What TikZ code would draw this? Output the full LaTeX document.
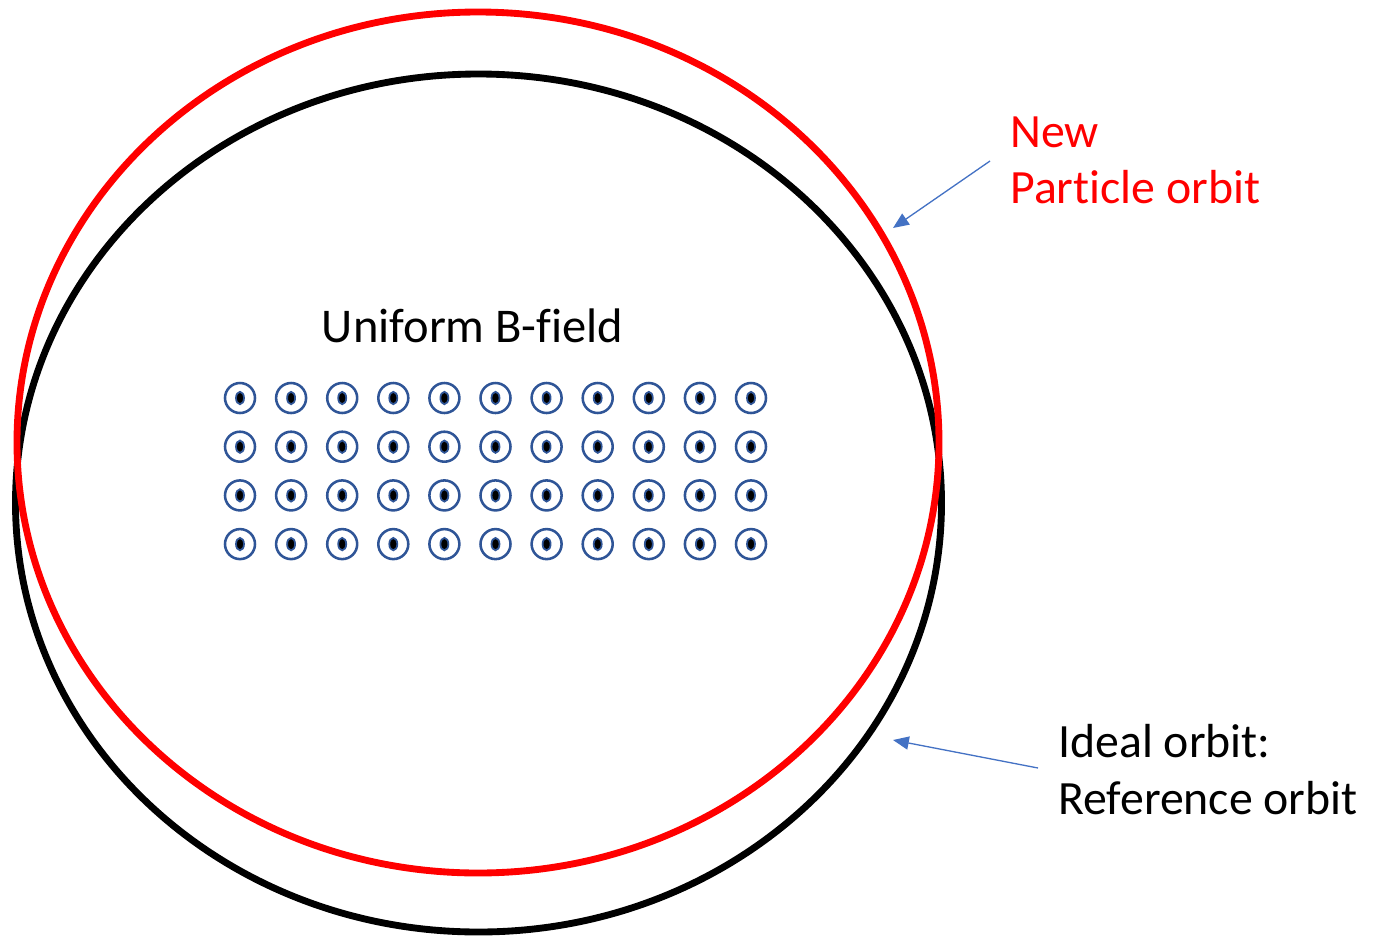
\documentclass[tikz,border=0pt]{standalone}
\usepackage{fontspec}
\setmainfont{Carlito}[Ligatures={NoCommon}]
\usetikzlibrary{arrows.meta}
\definecolor{fieldblue}{HTML}{2F5597}
\definecolor{arrowblue}{HTML}{4472C4}
\definecolor{orbitred}{HTML}{FF0000}
\begin{document}
\begin{tikzpicture}[x=0.02cm,y=-0.02cm,
  orbit/.style={line width=3.9pt},
  fieldring/.style={draw=fieldblue,line width=1.45pt},
  fielddot/.style={draw=fieldblue,fill=black,line width=1pt},
  lbl/.style={font=\fontsize{27.2}{32.3}\selectfont,align=left,anchor=north west,inner sep=0pt},
  pointer/.style={draw=arrowblue,line width=0.75pt,-{Triangle[length=9pt,width=7.5pt]}}]
\useasboundingbox (0,0) rectangle (1375,937);
% orbits
\draw[orbit,black] (478.5,503) ellipse [x radius=463,y radius=429];
\draw[orbit,orbitred] (478,442.5) ellipse [x radius=461,y radius=430.5];
% title
\node[font=\fontsize{27.6}{33}\selectfont] (title) at (472.5,326) {Uniform B-field};
% field symbols
\foreach \c in {0,...,10}{
  \foreach \r in {0,...,3}{
    \pgfmathsetmacro{\px}{240+51.1*\c}
    \pgfmathsetmacro{\py}{398+48.7*\r}
    \draw[fieldring] (\px,\py) circle [radius=15];
    \draw[fielddot] (\px,\py) ellipse [x radius=4,y radius=6.2];
  }
}
% labels
\node[lbl,text=orbitred] (newlbl) at (1010,116) {New\\Particle orbit};
\node[lbl] (ideallbl) at (1058,724) {Ideal orbit:\\Reference orbit};
% pointers
\coordinate (newtail) at (990,161);
\coordinate (newtip) at (893,228);
\coordinate (idealtail) at (1038,768);
\coordinate (idealtip) at (893,740);
\draw[pointer] (newtail) -- (newtip);
\draw[pointer] (idealtail) -- (idealtip);
\end{tikzpicture}
\end{document}
